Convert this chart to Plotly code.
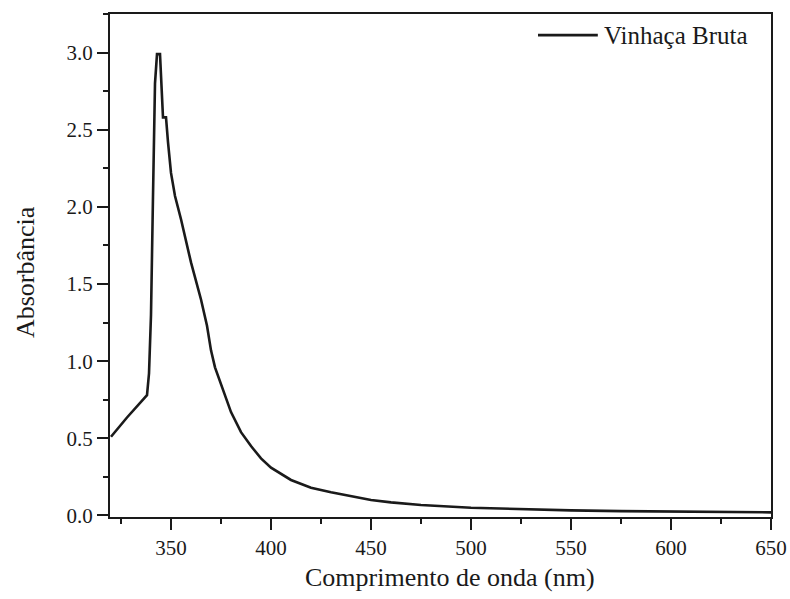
import plotly.graph_objects as go

wavelength = [320, 328, 336, 338, 339, 340, 341, 342, 343, 344.5, 346, 347.5, 348.5, 350,
              352, 355, 360, 365, 368, 370, 372, 375, 380, 385, 390, 395, 400, 410, 420,
              430, 440, 450, 460, 475, 500, 525, 550, 575, 600, 625, 650]
absorb = [0.51, 0.635, 0.75, 0.78, 0.92, 1.30, 2.07, 2.80, 2.99, 2.99, 2.58, 2.58, 2.42, 2.22,
          2.07, 1.92, 1.64, 1.40, 1.23, 1.07, 0.96, 0.85, 0.67, 0.54, 0.45, 0.37, 0.31, 0.23, 0.18,
          0.15, 0.125, 0.10, 0.085, 0.068, 0.05, 0.04, 0.033, 0.028, 0.025, 0.022, 0.02]
series_name = "Vinhaça Bruta"

font = "Liberation Serif, Times New Roman, serif"
ink = "#1a1a1a"

fig = go.Figure()
fig.add_trace(go.Scatter(x=wavelength, y=absorb, mode="lines", name=series_name,
                         line=dict(color=ink, width=2.6), showlegend=False))

# manual legend (long line sample like the original)
fig.add_shape(type="line", xref="paper", yref="paper", x0=0.6475, x1=0.738, y0=0.958, y1=0.958,
              line=dict(color=ink, width=2.6))
fig.add_annotation(text=series_name, xref="paper", yref="paper", x=0.744, y=0.958,
                   xanchor="left", yanchor="middle", showarrow=False,
                   font=dict(family=font, size=25, color=ink))

fig.add_annotation(text="Comprimento de onda (nm)", xref="paper", yref="paper", x=0.514, y=-0.121,
                   xanchor="center", yanchor="middle", showarrow=False,
                   font=dict(family=font, size=26, color=ink))
fig.add_annotation(text="Absorbância", xref="paper", yref="paper", x=-0.1286, y=0.487,
                   xanchor="center", yanchor="middle", showarrow=False, textangle=-90,
                   font=dict(family=font, size=26, color=ink))

fig.update_layout(
    width=790, height=599,
    margin=dict(l=110, r=19, t=14, b=82),
    paper_bgcolor="white", plot_bgcolor="white",
    font=dict(family=font, color=ink, size=21),
    showlegend=False,
)
fig.update_xaxes(range=[319.5, 650], tickvals=[350, 400, 450, 500, 550, 600, 650],
                 ticks="outside", ticklen=11, tickwidth=2, tickcolor=ink,
                 minor=dict(ticks="outside", ticklen=5, tickwidth=2, tickcolor=ink, dtick=25, tick0=325),
                 showline=True, linecolor=ink, linewidth=2, mirror=True, showgrid=False, zeroline=False,
                 tickfont=dict(size=21), automargin=False)
fig.update_yaxes(range=[-0.01, 3.25], tickvals=[0, 0.5, 1.0, 1.5, 2.0, 2.5, 3.0],
                 ticktext=["0.0", "0.5", "1.0", "1.5", "2.0", "2.5", "3.0"],
                 ticks="outside", ticklen=11, tickwidth=2, tickcolor=ink,
                 minor=dict(ticks="outside", ticklen=5, tickwidth=2, tickcolor=ink, dtick=0.25, tick0=0.25),
                 showline=True, linecolor=ink, linewidth=2, mirror=True, showgrid=False, zeroline=False,
                 tickfont=dict(size=21), automargin=False)

fig.write_html("out.html")
